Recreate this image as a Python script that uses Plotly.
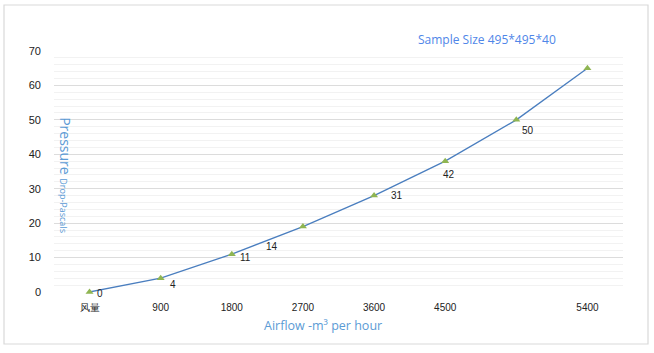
import plotly.graph_objects as go

categories = ["风量", "900", "1800", "2700", "3600", "4500", " ", "5400"]
pressure = [0, 4, 11, 19, 28, 38, 50, 65]
label_text = ["0", "4", "11", "14", "31", "42", "50", ""]
# pixel offsets of each data label relative to its point (style only)
label_dx = [10, 12, 14, -31, 23, 4, 12, 0]
label_dy = [-1, -6, -3, -20, 0, -13, -11, 0]

fig = go.Figure()
fig.add_trace(go.Scatter(
    x=list(range(len(categories))), y=pressure, mode="lines+markers",
    line=dict(color="#4a7ebf", width=1.3),
    marker=dict(symbol="triangle-up", size=7, color="#8fb552"),
    cliponaxis=False, showlegend=False,
))

for i, t in enumerate(label_text):
    if t:
        fig.add_annotation(x=i, y=pressure[i], text=t, showarrow=False,
                           xshift=label_dx[i], yshift=label_dy[i],
                           xanchor="center", yanchor="middle",
                           font=dict(family="Liberation Sans", size=10, color="#222"))

fig.add_annotation(xref="paper", yref="paper", x=0.761, y=1.046,
                   xanchor="center", yanchor="middle",
                   text="Sample Size 495*495*40", showarrow=False,
                   font=dict(family="Open Sans", size=12, color="#4f86e8"))
fig.add_annotation(xref="paper", yref="paper", x=0.473, y=-0.141,
                   xanchor="center", yanchor="middle",
                   text="Airflow -m³ per hour", showarrow=False,
                   font=dict(family="Open Sans", size=12.5, color="#5b9bd5"))
fig.add_annotation(xref="paper", yref="paper", x=0.021, y=0.485,
                   xanchor="center", yanchor="middle",
                   text="Pressure <span style='font-size:9px'>Drop-Pascals</span>",
                   textangle=90, showarrow=False,
                   font=dict(family="Open Sans", size=14, color="#5b9bd5"))

fig.update_xaxes(
    tickmode="array", tickvals=list(range(len(categories))), ticktext=categories,
    range=[-0.5, len(categories) - 0.5], showgrid=False, zeroline=False,
    showline=False, ticks="", ticklabelstandoff=8,
    tickfont=dict(family="Liberation Sans", size=10, color="#222"),
)
fig.update_yaxes(
    range=[0, 70], dtick=10, showgrid=True, gridcolor="#dcdcdc", gridwidth=1.2,
    minor=dict(dtick=2, showgrid=True, gridcolor="#f2f2f2", gridwidth=1.2),
    zeroline=False, showline=False, ticks="", ticklabelstandoff=12,
    tickfont=dict(family="Liberation Sans", size=11, color="#222"),
)

fig.update_layout(
    width=654, height=353, margin=dict(l=54, r=31, t=51, b=61),
    plot_bgcolor="white", paper_bgcolor="white",
    shapes=[dict(type="rect", xref="paper", yref="paper",
                 x0=-50 / 569, x1=594 / 569, y0=-52 / 241, y1=287 / 241,
                 line=dict(color="#d9d9d9", width=1.2), layer="below")],
)

fig.write_html("out.html")
